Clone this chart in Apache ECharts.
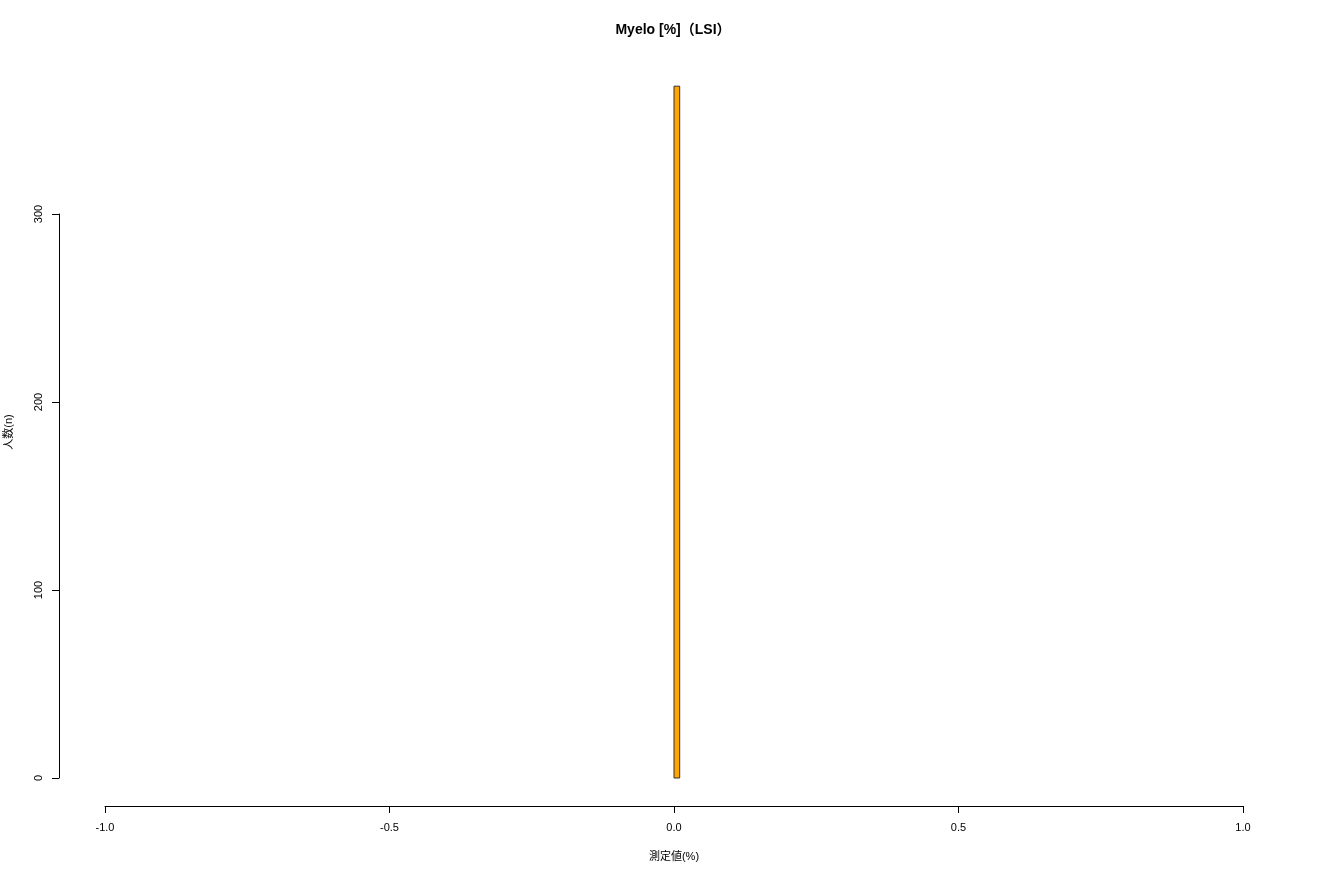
<!DOCTYPE html>
<html><head><meta charset="utf-8">
<script src="https://cdn.jsdelivr.net/npm/echarts@6/dist/echarts.min.js"></script>
<style>html,body{margin:0;padding:0;background:#fff}#c{width:1320px;height:880px}</style>
</head><body><div id="c"></div>
<script>
var titleText = 'Myelo [%]（LSI）';
var xTitle = '測定値(%)';
var yTitle = '人数(n)';
var binStart = [0.0];
var binEnd = [0.01];
var counts = [368];
var xTicks = [-1.0, -0.5, 0.0, 0.5, 1.0];
var yTicks = [0, 100, 200, 300];

var font = '"Liberation Sans", Arial, "Noto Sans CJK JP", sans-serif';
var chart = echarts.init(document.getElementById('c'));
var data = binStart.map(function (s, i) { return [s, binEnd[i], counts[i]]; });
chart.setOption({
  animation: false,
  backgroundColor: '#ffffff',
  grid: { left: 105, right: 77, top: 214, bottom: 102 },
  graphic: [
    { type: 'text', x: 673, y: 30, style: { text: titleText, font: 'bold 14px ' + font, fill: '#000', textAlign: 'center', textVerticalAlign: 'middle' } },
    { type: 'text', x: 674, y: 857, style: { text: xTitle, font: '11px ' + font, fill: '#000', textAlign: 'center', textVerticalAlign: 'middle' } },
    { type: 'text', rotation: Math.PI / 2, x: 9, y: 432, style: { text: yTitle, font: '11px ' + font, fill: '#000', textAlign: 'center', textVerticalAlign: 'middle' } }
  ],
  xAxis: {
    type: 'value', min: -1, max: 1, interval: 0.5, offset: 28,
    axisLine: { show: true, onZero: false, lineStyle: { color: '#000', width: 1 } },
    axisTick: { show: true, length: 7, inside: false, lineStyle: { color: '#000' } },
    axisLabel: { color: '#000', fontSize: 11, fontFamily: font, margin: 16, formatter: function (v) { return v.toFixed(1); } },
    splitLine: { show: false }
  },
  yAxis: {
    type: 'value', min: 0, max: 300, interval: 100, offset: 46,
    axisLine: { show: true, onZero: false, lineStyle: { color: '#000', width: 1 } },
    axisTick: { show: true, length: 7, lineStyle: { color: '#000' } },
    axisLabel: { color: '#000', fontSize: 11, fontFamily: font, rotate: 90, margin: 15 },
    splitLine: { show: false }
  },
  series: [{
    type: 'custom',
    clip: false,
    data: data,
    renderItem: function (params, api) {
      var p0 = api.coord([api.value(0), 0]);
      var p1 = api.coord([api.value(1), api.value(2)]);
      return {
        type: 'rect',
        shape: { x: p0[0], y: p1[1], width: p1[0] - p0[0], height: p0[1] - p1[1] },
        style: { fill: '#FFA500', stroke: '#333', lineWidth: 1 }
      };
    }
  }]
});
</script></body></html>
